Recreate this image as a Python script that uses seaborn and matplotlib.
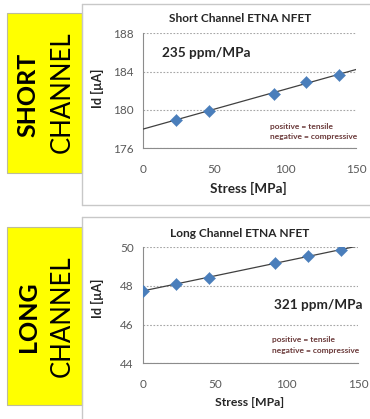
import numpy as np
import pandas as pd
import seaborn as sns
import matplotlib
matplotlib.use("Agg")
import matplotlib.pyplot as plt
from matplotlib.patches import Rectangle
from matplotlib.lines import Line2D

# Measured drain current versus applied stress
stress_short = [23, 46, 92, 115, 138]
id_short = [179.0, 179.9, 181.7, 182.9, 183.7]

stress_long = [0, 23, 46, 92, 115, 138]
id_long = [47.75, 48.12, 48.43, 49.17, 49.57, 49.86]

x_ticks = [0, 50, 100, 150]
y_ticks_short = [176, 180, 184, 188]
y_ticks_long = [44, 46, 48, 50]

sens_short = "235 ppm/MPa"
sens_long = "321 ppm/MPa"

sns.set_theme(style="white")
plt.rcParams["font.family"] = ["Lato", "DejaVu Sans"]

W, H = 370, 419
fig = plt.figure(figsize=(W / 100, H / 100), dpi=100)


def fx(px):
    return px / W


def fy(py):
    return 1 - py / H


BLUE = "#4A7EBB"
GRID = "#a6a6a6"
SPINE = "#8c8c8c"
TICK_TXT = "#595959"
NOTE = "#6b3a3a"


def draw_panel(rect, x, y, yticks, title, sens, sens_xy, title_y):
    ax = fig.add_axes(rect)
    df = pd.DataFrame({"Stress": x, "Id": y})
    # least-squares trend line across the full stress range
    k, b = np.polyfit(df["Stress"], df["Id"], 1)
    xs = np.array([0, 150])
    trend = pd.DataFrame({"Stress": xs, "Id": k * xs + b})
    sns.lineplot(data=trend, x="Stress", y="Id", ax=ax, color="#404040",
                 linewidth=0.9, zorder=3)
    sns.scatterplot(data=df, x="Stress", y="Id", ax=ax, marker="D",
                    color=BLUE, s=38, edgecolor=BLUE, linewidth=0.3, zorder=4)
    ax.set_xlim(0, 150)
    ax.set_ylim(yticks[0], yticks[-1])
    ax.set_xticks(x_ticks)
    ax.set_yticks(yticks)
    ax.yaxis.grid(True, linestyle=(0, (1.5, 1.5)), color=GRID, linewidth=0.8)
    ax.xaxis.grid(False)
    for s in ["top", "right"]:
        ax.spines[s].set_visible(False)
    for s in ["left", "bottom"]:
        ax.spines[s].set_color(SPINE)
        ax.spines[s].set_linewidth(0.8)
    ax.tick_params(axis="both", direction="out", length=4, width=0.8,
                   color=SPINE, labelcolor=TICK_TXT, labelsize=8.5, pad=3)
    ax.tick_params(axis="x", pad=7)
    ax.set_xlabel("")
    ax.set_ylabel("")
    ax.text(sens_xy[0], sens_xy[1], sens, fontsize=9.8, fontweight="bold",
            color="#262626", ha="left", va="center")
    fig.text(fx(240), fy(title_y), title, fontsize=8.6, fontweight="bold",
             color="#262626", ha="center", va="center")
    return ax


ax1 = draw_panel([fx(143.3), fy(148.3), fx(356) - fx(143.3), fy(33.3) - fy(148.3)],
                 stress_short, id_short, y_ticks_short,
                 "Short Channel ETNA NFET", sens_short, (13, 185.9), 19)
ax2 = draw_panel([fx(143.3), fy(363.3), fx(358.3) - fx(143.3), fy(247.3) - fy(363.3)],
                 stress_long, id_long, y_ticks_long,
                 "Long Channel ETNA NFET", sens_long, (91, 47.0), 233)

# axis titles
fig.text(fx(248), fy(188), "Stress [MPa]", fontsize=9.8, fontweight="bold",
         color="#262626", ha="center", va="center")
fig.text(fx(250), fy(402), "Stress [MPa]", fontsize=8.8, fontweight="bold",
         color="#262626", ha="center", va="center")
fig.text(fx(97), fy(88), "Id [µA]", fontsize=9.2, fontweight="bold",
         color="#262626", ha="center", va="center", rotation=90)
fig.text(fx(97), fy(298), "Id [µA]", fontsize=9.2, fontweight="bold",
         color="#262626", ha="center", va="center", rotation=90)

# sign convention notes
for (x0, y0) in [(270, 126), (272, 339)]:
    fig.text(fx(x0), fy(y0), "positive = tensile", fontsize=6.0,
             fontweight="bold", color=NOTE, ha="left", va="center")
    fig.text(fx(x0), fy(y0 + 11), "negative = compressive", fontsize=6.0,
             fontweight="bold", color=NOTE, ha="left", va="center")

# yellow channel labels
for (top, bot) in [(13, 173), (227, 405)]:
    fig.patches.append(Rectangle((fx(7), fy(bot)), fx(82) - fx(7), fy(top) - fy(bot),
                                 transform=fig.transFigure, facecolor="#FFFF00",
                                 edgecolor="#bdbd9a", linewidth=0.8, zorder=0))

fig.text(fx(28), fy(95), "SHORT", fontsize=18, fontweight="bold", color="black",
         rotation=90, ha="center", va="center")
fig.text(fx(62), fy(92.5), "CHANNEL", fontsize=18.5, color="black",
         rotation=90, ha="center", va="center")
fig.text(fx(28), fy(317), "LONG", fontsize=18, fontweight="bold", color="black",
         rotation=90, ha="center", va="center")
fig.text(fx(62), fy(316), "CHANNEL", fontsize=18.5, color="black",
         rotation=90, ha="center", va="center")

# chart frames
FRAME = "#c8c8c8"
for xs, ys in [([82, 82], [4.3, 205]), ([82, 370], [4.3, 4.3]), ([82, 370], [205, 205]),
               ([82, 82], [217.3, 419]), ([82, 370], [217.3, 217.3])]:
    fig.lines.append(Line2D([fx(v) for v in xs], [fy(v) for v in ys],
                            transform=fig.transFigure, color=FRAME, linewidth=1.0))

fig.savefig("out.png", dpi=100)
